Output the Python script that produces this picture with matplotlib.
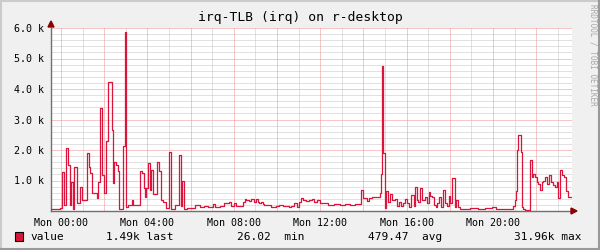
import matplotlib
matplotlib.use('Agg')
import matplotlib.pyplot as plt
from matplotlib.lines import Line2D
from matplotlib.patches import Rectangle, Polygon

plt.rcParams['font.family'] = 'DejaVu Sans Mono'

# step start times (hours since Mon 00:00) and values (in thousands)
t_hours = [
    -0.51, -0.05, 0.05, 0.14, 0.23, 0.32, 0.42, 0.46, 0.56, 0.60,
    0.74, 0.88, 0.97, 1.20, 1.30, 1.34, 1.44, 1.67, 1.71, 1.81,
    1.90, 1.99, 2.08, 2.18, 2.36, 2.41, 2.45, 2.55, 2.64, 2.69,
    2.87, 2.96, 3.01, 3.10, 3.29, 3.33, 3.66, 3.75, 3.84, 3.89,
    3.94, 4.03, 4.12, 4.17, 4.26, 4.44, 4.54, 4.63, 4.72, 4.86,
    5.00, 5.09, 5.28, 5.46, 5.56, 5.60, 5.69, 5.83, 6.20, 6.44,
    6.62, 6.81, 7.04, 7.13, 7.36, 7.55, 7.64, 7.78, 7.87, 8.01,
    8.10, 8.43, 8.50, 8.56, 8.70, 8.80, 8.94, 9.03, 9.12, 9.17,
    9.26, 9.35, 9.42, 9.58, 9.72, 9.81, 9.95, 10.09, 10.28, 10.56,
    10.65, 10.79, 10.93, 11.02, 11.11, 11.20, 11.34, 11.48, 11.62, 11.71,
    11.85, 11.99, 12.18, 12.36, 12.64, 12.92, 13.15, 13.38, 13.61, 13.89,
    13.98, 14.17, 14.26, 14.40, 14.58, 14.77, 14.81, 14.86, 14.91, 15.00,
    15.05, 15.14, 15.23, 15.32, 15.46, 15.56, 15.65, 15.74, 15.83, 15.93,
    16.02, 16.11, 16.20, 16.34, 16.39, 16.48, 16.53, 16.62, 16.71, 16.85,
    16.94, 17.04, 17.08, 17.18, 17.27, 17.36, 17.41, 17.50, 17.59, 17.69,
    17.78, 17.87, 17.96, 18.01, 18.10, 18.24, 18.29, 18.38, 18.47, 18.94,
    19.31, 19.63, 19.95, 20.14, 20.93, 21.02, 21.06, 21.11, 21.16, 21.30,
    21.34, 21.39, 21.48, 21.71, 21.81, 21.85, 21.94, 22.04, 22.08, 22.18,
    22.27, 22.31, 22.41, 22.50, 22.59, 22.69, 22.78, 22.87, 22.96, 23.01,
    23.10, 23.19, 23.29, 23.38, 23.47, 23.56,
]
values_k = [
    0.07, 0.10, 1.28, 0.20, 2.07, 1.50, 0.20, 0.95, 0.07, 1.45,
    0.25, 0.80, 0.35, 1.90, 1.45, 1.25, 0.60, 0.43, 0.95, 3.38,
    1.18, 0.58, 2.30, 4.22, 2.66, 0.92, 1.62, 1.50, 1.30, 0.05,
    2.14, 5.87, 0.12, 0.20, 0.35, 0.20, 1.30, 1.25, 0.75, 0.45,
    0.75, 1.58, 0.70, 1.35, 0.55, 1.62, 1.30, 0.35, 0.30, 0.10,
    1.93, 0.07, 0.20, 1.82, 0.18, 1.00, 0.07, 0.10, 0.20, 0.12,
    0.18, 0.12, 0.22, 0.13, 0.18, 0.25, 0.25, 0.30, 0.17, 0.27,
    0.16, 0.30, 0.40, 0.36, 0.33, 0.38, 0.30, 0.38, 0.30, 0.25,
    0.30, 0.23, 0.20, 0.19, 0.14, 0.12, 0.18, 0.20, 0.16, 0.12,
    0.18, 0.25, 0.12, 0.30, 0.42, 0.35, 0.32, 0.36, 0.38, 0.30,
    0.35, 0.25, 0.27, 0.20, 0.22, 0.20, 0.23, 0.20, 0.23, 0.69,
    0.43, 0.33, 0.43, 0.45, 0.47, 0.60, 1.20, 4.77, 1.90, 0.10,
    0.64, 0.30, 0.55, 0.35, 0.40, 0.17, 0.30, 0.17, 0.25, 0.40,
    0.25, 0.13, 0.53, 0.18, 0.79, 0.35, 0.30, 0.75, 0.35, 0.45,
    0.25, 0.63, 0.50, 0.45, 0.20, 0.12, 0.27, 0.45, 0.12, 0.69,
    0.25, 0.15, 0.50, 0.25, 1.08, 0.12, 0.35, 0.12, 0.07, 0.10,
    0.08, 0.10, 0.12, 0.08, 0.17, 0.35, 0.65, 2.00, 2.50, 1.95,
    0.12, 0.08, 0.02, 1.68, 1.12, 1.22, 1.12, 0.95, 0.90, 0.68,
    0.95, 1.00, 1.12, 0.90, 1.17, 0.95, 0.85, 0.80, 0.95, 0.43,
    1.35, 1.18, 1.12, 0.65, 0.45, 0.45,
]

x_labels = ['Mon 00:00', 'Mon 04:00', 'Mon 08:00', 'Mon 12:00', 'Mon 16:00', 'Mon 20:00']
x_label_hours = [0, 4, 8, 12, 16, 20]
y_label_vals = [1, 2, 3, 4, 5, 6]
y_labels = ['1.0 k', '2.0 k', '3.0 k', '4.0 k', '5.0 k', '6.0 k']

title = 'irq-TLB (irq) on r-desktop'
legend_items = [('value', 30), ('1.49k last', 106), ('26.02  min', 237),
                ('479.47  avg', 368), ('31.96k max', 514)]

W, H = 600, 250
line_color = '#DC143C'
x_min, x_max = -0.463, 23.66

fig = plt.figure(figsize=(6, 2.5), dpi=100, facecolor='#F0F0F0')
ax = fig.add_axes([51 / W, 1 - 211 / H, (572 - 51) / W, (211 - 28) / H])
ax.set_facecolor('white')
ax.set_xlim(x_min, x_max)
ax.set_ylim(0, 6.0)

# grid: minor every 0.2k / 1h, major every 1k / 2h
dots = (0, (1, 1))
for i in range(1, 31):
    y = i * 0.2
    major = (i % 5 == 0)
    ax.axhline(y, color='#f09090' if major else '#c4c4c4', lw=0.72, ls=dots, zorder=1)
for h in range(0, 24):
    ax.axvline(h, color='#f09090' if h % 2 == 0 else '#c4c4c4', lw=0.72, ls=dots, zorder=1)

ts = t_hours + [t_hours[-1] + 0.05]
vs = values_k + [values_k[-1]]
ax.step(ts, vs, where='post', color=line_color, lw=0.9, zorder=3)

for s in ['top', 'right']:
    ax.spines[s].set_visible(False)
for s in ['left', 'bottom']:
    ax.spines[s].set_color('#707070')
    ax.spines[s].set_linewidth(1.0)
ax.set_xticks(x_label_hours)
ax.set_xticklabels(x_labels, fontsize=7.2)
ax.set_yticks(y_label_vals)
ax.set_yticklabels(y_labels, fontsize=7.2)
ax.tick_params(length=0, pad=5)

# arrows at axis ends
fig.patches.append(Polygon([[48 / W, 1 - 27 / H], [54 / W, 1 - 27 / H], [51 / W, 1 - 21 / H]],
                           closed=True, transform=fig.transFigure, color='#8B0000', zorder=5))
fig.patches.append(Polygon([[571 / W, 1 - 208 / H], [571 / W, 1 - 214 / H], [577 / W, 1 - 211 / H]],
                           closed=True, transform=fig.transFigure, color='#8B0000', zorder=5))

fig.text(0.5, 1 - 18 / H, title, ha='center', va='center', fontsize=9.4)

# legend line
fig.patches.append(Rectangle((15 / W, 1 - 241 / H), 8 / W, 9 / H, transform=fig.transFigure,
                             facecolor=line_color, edgecolor='black', lw=0.8))
for txt, x in legend_items:
    fig.text(x / W, 1 - 237 / H, txt, ha='left', va='center', fontsize=8)

fig.text(593 / W, 1 - 4 / H, 'RRDTOOL / TOBI OETIKER', rotation=270, ha='center', va='top',
         fontsize=5.6, color='#a8a8a8')

# frame shading
fig.add_artist(Line2D([0, 1], [1 - 0.5 / H, 1 - 0.5 / H], transform=fig.transFigure, color='#CBCBCB', lw=1.5))
fig.add_artist(Line2D([0.5 / W, 0.5 / W], [0, 1], transform=fig.transFigure, color='#CBCBCB', lw=1.5))
fig.add_artist(Line2D([0, 1], [1 / H, 1 / H], transform=fig.transFigure, color='#999999', lw=1.5))
fig.add_artist(Line2D([1 - 1 / W, 1 - 1 / W], [0, 1], transform=fig.transFigure, color='#999999', lw=1.5))

fig.savefig('out.png', dpi=100, facecolor=fig.get_facecolor())
